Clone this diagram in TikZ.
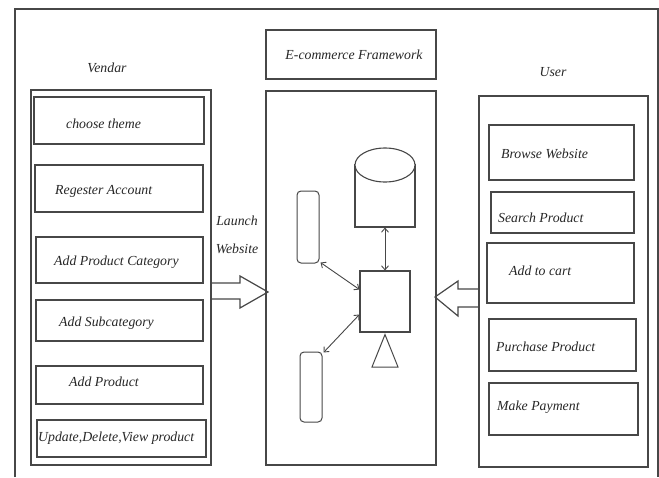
\documentclass[tikz,border=0pt]{standalone}
\usepackage{fontspec}
\setmainfont{Liberation Serif}
\usetikzlibrary{arrows.meta,fit}
\begin{document}
\begin{tikzpicture}[x=1pt,y=-1pt,
  ln/.style={draw=black!72, line width=1.1pt},
  box/.style={ln, rectangle, inner sep=0pt, fit={#1}},
  txt/.style={inner sep=0pt, font=\fontsize{13.8}{16}\selectfont\itshape, text=black!85, text height=9pt, text depth=3pt},
  lt/.style={txt, anchor=west},
  conn/.style={draw=black!72, line width=0.9pt, {Straight Barb[length=4pt,width=7pt]}-{Straight Barb[length=4pt,width=7pt]}},
  blk/.style={ln, line width=1.2pt, line join=miter}]
\useasboundingbox (0,0) rectangle (659,477);
% outer frame
\draw[ln, line width=1.4pt] (15,477) -- (15,9) -- (658,9) -- (658,477);

% Vendor side
\node[txt] (vlab) at (107,69) {Vendar};
\node[box={(31,90) (211,465)}] (vout) {};
\node[box={(34,97) (204,144)}] (v1) {};
\node[lt] (t1) at (66,125) {choose theme};
\node[box={(35,165) (203,212)}] (v2) {};
\node[lt] (t2) at (55,191) {Regester Account};
\node[box={(36,237) (203,283)}] (v3) {};
\node[lt] (t3) at (54,262) {Add Product Category};
\node[box={(36,300) (203,341)}] (v4) {};
\node[lt] (t4) at (59,323) {Add Subcategory};
\node[box={(36,366) (203,404)}] (v5) {};
\node[lt] (t5) at (69,383) {Add Product};
\node[box={(37,420) (206,457)}] (v6) {};
\node[lt] (t6) at (38,438) {Update,Delete,View product};

% launch label and arrow
\node[txt] (la1) at (237,222) {Launch};
\node[txt] (la2) at (237,250) {Website};
\draw[blk] (211,283) -- (240,283) -- (240,276) -- (268,292) -- (240,308) -- (240,299) -- (211,299);

% Framework
\node[box={(266,30) (436,79)}] (fwt) {};
\node[txt] (fwlab) at (354,56) {E-commerce Framework};
\node[box={(266,91) (436,465)}] (fw) {};

% cylinder
\node[ln, rectangle, inner sep=0pt, minimum width=60pt, minimum height=62pt] (cyl) at (385,196) {};
\draw[ln, fill=white] (385,165) ellipse [x radius=30pt, y radius=17pt];
% square
\node[ln, rectangle, inner sep=0pt, minimum width=50pt, minimum height=61pt] (sq) at (385,301.5) {};
% triangle
\draw[ln, line width=1pt] ([yshift=-2pt]sq.south) -- (398,367) -- (372,367) -- cycle;
% rounded rects
\node[ln, line width=1pt, rectangle, rounded corners=4pt, inner sep=0pt, minimum width=22pt, minimum height=72pt] (r1) at (308,227) {};
\node[ln, line width=1pt, rectangle, rounded corners=4pt, inner sep=0pt, minimum width=22pt, minimum height=70pt] (r2) at (311,387) {};

\draw[conn] (cyl.south) -- (sq.north);
\draw[conn] ([xshift=1pt,yshift=1pt]r1.south east) -- ([yshift=12pt]sq.west);
\draw[conn] ([xshift=1pt,yshift=-1pt]r2.north east) -- ([yshift=-13pt]sq.west);

% User side
\node[txt] (ulab) at (553,73) {User};
\node[box={(479,96) (648,467)}] (uout) {};
\node[box={(489,125) (634,180)}] (u1) {};
\node[lt] (s1) at (501,155) {Browse Website};
\node[box={(491,192) (634,233)}] (u2) {};
\node[lt] (s2) at (498,219) {Search Product};
\node[box={(487,243) (634,303)}] (u3) {};
\node[lt] (s3) at (509,272) {Add to cart};
\node[box={(489,319) (636,371)}] (u4) {};
\node[lt] (s4) at (496,348) {Purchase Product};
\node[box={(489,383) (638,435)}] (u5) {};
\node[lt] (s5) at (497,407) {Make Payment};

\draw[blk] (478,289) -- (458,289) -- (458,281) -- (435,297) -- (458,316) -- (458,307) -- (478,307);
\end{tikzpicture}
\end{document}
